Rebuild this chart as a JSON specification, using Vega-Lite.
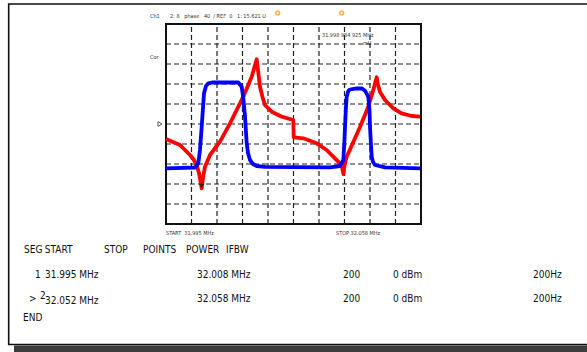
{
  "$schema": "https://vega.github.io/schema/vega-lite/v6.json",
  "width": 587,
  "height": 352,
  "autosize": "none",
  "padding": 0,
  "background": "white",
  "config": {"view": {"stroke": null}, "font": "DejaVu Sans Condensed, Liberation Sans, sans-serif"},
  "datasets": {
    "one": [{"k": 1}],
    "blue": [
      {"x": 0, "y": 2.785}, {"x": 1.137, "y": 2.825}, {"x": 1.267, "y": 3.035}, {"x": 1.333, "y": 3.7},
      {"x": 1.4, "y": 4.865}, {"x": 1.49, "y": 6.535}, {"x": 1.569, "y": 6.9}, {"x": 1.659, "y": 7.035},
      {"x": 1.804, "y": 7.075}, {"x": 2.835, "y": 7.075}, {"x": 2.969, "y": 6.865}, {"x": 3.039, "y": 6.2},
      {"x": 3.098, "y": 5.365}, {"x": 3.165, "y": 4.035}, {"x": 3.216, "y": 3.55}, {"x": 3.294, "y": 3.2},
      {"x": 3.412, "y": 3.0}, {"x": 3.557, "y": 2.9}, {"x": 3.882, "y": 2.86}, {"x": 6.431, "y": 2.835},
      {"x": 6.824, "y": 2.9}, {"x": 6.953, "y": 3.2}, {"x": 7.0, "y": 4.2}, {"x": 7.02, "y": 4.865},
      {"x": 7.051, "y": 5.7}, {"x": 7.086, "y": 6.365}, {"x": 7.149, "y": 6.65}, {"x": 7.216, "y": 6.725},
      {"x": 7.478, "y": 6.785}, {"x": 7.686, "y": 6.775}, {"x": 7.804, "y": 6.665}, {"x": 7.933, "y": 6.365},
      {"x": 7.98, "y": 5.7}, {"x": 8.0, "y": 4.865}, {"x": 8.039, "y": 3.95}, {"x": 8.067, "y": 3.365},
      {"x": 8.118, "y": 3.1}, {"x": 8.196, "y": 2.95}, {"x": 8.588, "y": 2.835}, {"x": 9.97, "y": 2.785}
    ],
    "red": [
      {"x": 0, "y": 4.25}, {"x": 0.549, "y": 3.95}, {"x": 0.941, "y": 3.45}, {"x": 1.071, "y": 3.25},
      {"x": 1.204, "y": 2.95}, {"x": 1.294, "y": 2.55}, {"x": 1.4, "y": 1.785}, {"x": 1.451, "y": 2.3},
      {"x": 1.529, "y": 2.865}, {"x": 1.725, "y": 3.45}, {"x": 2.118, "y": 4.115}, {"x": 2.51, "y": 5.035},
      {"x": 3.031, "y": 6.365}, {"x": 3.361, "y": 7.365}, {"x": 3.557, "y": 8.235}, {"x": 3.608, "y": 7.7},
      {"x": 3.686, "y": 6.865}, {"x": 3.784, "y": 6.35}, {"x": 3.882, "y": 5.95}, {"x": 4.145, "y": 5.615},
      {"x": 4.537, "y": 5.365}, {"x": 4.992, "y": 5.2}, {"x": 5.008, "y": 4.335}, {"x": 5.384, "y": 4.285},
      {"x": 5.91, "y": 4.035}, {"x": 6.302, "y": 3.7}, {"x": 6.627, "y": 3.285}, {"x": 6.824, "y": 3.035},
      {"x": 6.902, "y": 2.85}, {"x": 6.961, "y": 2.5}, {"x": 7.0, "y": 2.95}, {"x": 7.086, "y": 3.365},
      {"x": 7.345, "y": 4.1}, {"x": 7.608, "y": 4.85}, {"x": 7.933, "y": 5.865}, {"x": 8.129, "y": 6.7},
      {"x": 8.263, "y": 7.335}, {"x": 8.314, "y": 6.95}, {"x": 8.392, "y": 6.615}, {"x": 8.588, "y": 6.2},
      {"x": 8.914, "y": 5.785}, {"x": 9.243, "y": 5.535}, {"x": 9.635, "y": 5.4}, {"x": 9.97, "y": 5.365}
    ],
    "grid": [{"v": 1}, {"v": 2}, {"v": 3}, {"v": 4}, {"v": 5}, {"v": 6}, {"v": 7}, {"v": 8}, {"v": 9}],
    "tiny": [
      {"x": -0.627, "y": 10.4, "t": "Ch1"},
      {"x": 0.157, "y": 10.4, "t": "2: 8\u00a0\u00a0\u00a0phase\u00a0\u00a0\u00a040\u00a0\u00a0/ REF\u00a0\u00a00\u00a0\u00a0\u00a01:\u00a015.621 U"},
      {"x": -0.627, "y": 8.35, "t": "Cor"},
      {"x": 6.118, "y": 9.45, "t": "31.998 984 925 MHz"},
      {"x": 7.725, "y": 9.05, "t": "mU"},
      {"x": 0, "y": -0.425, "t": "START\u00a0\u00a031.995 MHz"},
      {"x": 6.667, "y": -0.425, "t": "STOP 32.058 MHz"}
    ],
    "table": [
      {"x": -5.569, "y": -1.3, "t": "SEG"},
      {"x": -4.75, "y": -1.3, "t": "START"},
      {"x": -2.431, "y": -1.3, "t": "STOP"},
      {"x": -0.902, "y": -1.3, "t": "POINTS"},
      {"x": 0.784, "y": -1.3, "t": "POWER"},
      {"x": 2.353, "y": -1.3, "t": "IFBW"},
      {"x": -5.137, "y": -2.55, "t": "1"},
      {"x": -4.745, "y": -2.55, "t": "31.995 MHz"},
      {"x": 1.216, "y": -2.55, "t": "32.008 MHz"},
      {"x": 6.941, "y": -2.55, "t": "200"},
      {"x": 8.902, "y": -2.55, "t": "0 dBm"},
      {"x": 14.392, "y": -2.55, "t": "200Hz"},
      {"x": -5.373, "y": -3.75, "t": ">"},
      {"x": -4.941, "y": -3.6, "t": "2"},
      {"x": -4.745, "y": -3.85, "t": "32.052 MHz"},
      {"x": 1.216, "y": -3.75, "t": "32.058 MHz"},
      {"x": 6.941, "y": -3.75, "t": "200"},
      {"x": 8.902, "y": -3.75, "t": "0 dBm"},
      {"x": 14.392, "y": -3.75, "t": "200Hz"},
      {"x": -5.608, "y": -4.7, "t": "END"}
    ],
    "orange": [{"x": 4.38, "y": 10.55}, {"x": 6.89, "y": 10.55}],
    "refmark": [{"x": -0.235, "y": 5.0}],
    "cusp": [{"x": 1.4, "y": 1.9}]
  },
  "layer": [
    {
      "data": {"name": "one"},
      "mark": {"type": "rect", "fill": "#3c3c3c"},
      "encoding": {
        "x": {"datum": -5.961, "type": "quantitative", "scale": {"domain": [-6.5098, 16.5098], "nice": false, "zero": false}, "axis": null},
        "x2": {"datum": 17},
        "y": {"datum": -6.075, "type": "quantitative", "scale": {"domain": [-6.4, 11.2], "nice": false, "zero": false}, "axis": null},
        "y2": {"datum": -6.5}
      }
    },
    {
      "data": {"name": "one"},
      "mark": {"type": "rect", "fill": null, "stroke": "#111111", "strokeWidth": 1.6},
      "encoding": {
        "x": {"datum": -6.169, "type": "quantitative"},
        "x2": {"datum": 17},
        "y": {"datum": 11.0, "type": "quantitative"},
        "y2": {"datum": -6.025}
      }
    },
    {
      "data": {"name": "grid"},
      "mark": {"type": "rule", "stroke": "#222222", "strokeWidth": 1.2, "strokeDash": [5, 3]},
      "encoding": {
        "x": {"field": "v", "type": "quantitative"},
        "y": {"datum": 0, "type": "quantitative"},
        "y2": {"datum": 10}
      }
    },
    {
      "data": {"name": "grid"},
      "mark": {"type": "rule", "stroke": "#222222", "strokeWidth": 1.2, "strokeDash": [5, 3]},
      "encoding": {
        "y": {"field": "v", "type": "quantitative"},
        "x": {"datum": 0, "type": "quantitative"},
        "x2": {"datum": 10}
      }
    },
    {
      "data": {"name": "one"},
      "mark": {"type": "rect", "fill": null, "stroke": "#111111", "strokeWidth": 2},
      "encoding": {
        "x": {"datum": 0, "type": "quantitative"},
        "x2": {"datum": 10},
        "y": {"datum": 0, "type": "quantitative"},
        "y2": {"datum": 10}
      }
    },
    {
      "data": {"name": "red"},
      "mark": {"type": "line", "color": "#ff0000", "strokeWidth": 3.8, "strokeJoin": "round"},
      "encoding": {
        "x": {"field": "x", "type": "quantitative"},
        "y": {"field": "y", "type": "quantitative"}
      }
    },
    {
      "data": {"name": "blue"},
      "mark": {"type": "line", "color": "#0000ff", "strokeWidth": 3.8, "strokeJoin": "round"},
      "encoding": {
        "x": {"field": "x", "type": "quantitative"},
        "y": {"field": "y", "type": "quantitative"}
      }
    },
    {
      "data": {"name": "cusp"},
      "mark": {"type": "point", "shape": "triangle-down", "filled": true, "color": "#111111", "size": 28},
      "encoding": {
        "x": {"field": "x", "type": "quantitative"},
        "y": {"field": "y", "type": "quantitative"}
      }
    },
    {
      "data": {"name": "refmark"},
      "mark": {"type": "point", "shape": "triangle-right", "filled": false, "color": "#111111", "strokeWidth": 1, "size": 22},
      "encoding": {
        "x": {"field": "x", "type": "quantitative"},
        "y": {"field": "y", "type": "quantitative"}
      }
    },
    {
      "data": {"name": "orange"},
      "mark": {"type": "point", "shape": "circle", "filled": false, "color": "#ff8c00", "strokeWidth": 1.5, "size": 14},
      "encoding": {
        "x": {"field": "x", "type": "quantitative"},
        "y": {"field": "y", "type": "quantitative"}
      }
    },
    {
      "data": {"name": "tiny"},
      "mark": {"type": "text", "align": "left", "baseline": "middle", "fontSize": 5.5, "color": "#333333"},
      "encoding": {
        "x": {"field": "x", "type": "quantitative"},
        "y": {"field": "y", "type": "quantitative"},
        "text": {"field": "t"}
      }
    },
    {
      "data": {"name": "table"},
      "mark": {"type": "text", "align": "left", "baseline": "middle", "fontSize": 10, "color": "#111111"},
      "encoding": {
        "x": {"field": "x", "type": "quantitative"},
        "y": {"field": "y", "type": "quantitative"},
        "text": {"field": "t"}
      }
    }
  ]
}
